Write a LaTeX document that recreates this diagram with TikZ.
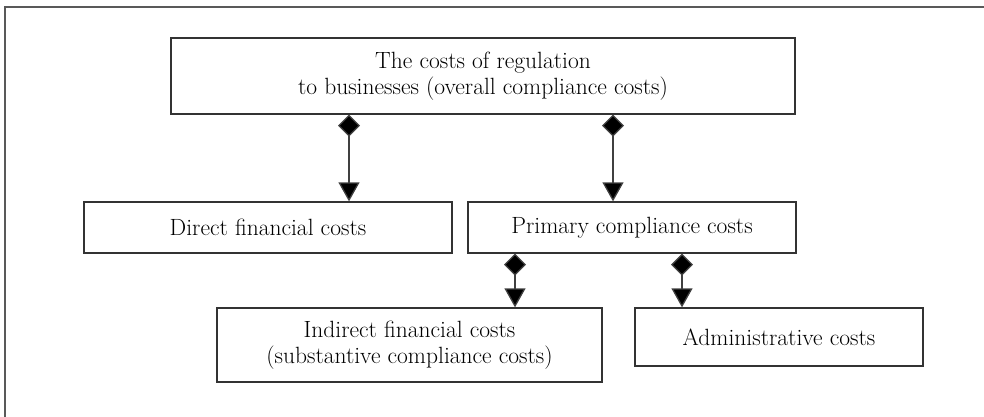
\documentclass[tikz,border=0pt]{standalone}
\usetikzlibrary{arrows.meta}

\begin{document}
\begin{tikzpicture}
[x=1pt,y=-1pt,
 box/.style={draw=black!80,line width=1.3pt,rectangle,inner sep=0pt,align=center,
   font=\fontsize{23.5}{26}\selectfont},
 link/.style={draw=black!75,line width=1.3pt,
   {Diamond[length=22pt,width=22pt,fill=black]}-{Triangle[length=19pt,width=21pt,fill=black]}}]
\useasboundingbox (0,0) rectangle (984,417);
% frame
\draw[black!65,line width=2pt] (5,417) -- (5,7) -- (984,7);
\node[box,minimum width=624pt,minimum height=76pt](top) at (483,76)
  {The costs of regulation\\to businesses (overall compliance costs)};
\node[box,minimum width=368pt,minimum height=51pt](dfc) at (268,227.5){Direct financial costs};
\node[box,minimum width=328pt,minimum height=51pt](pcc) at (632,227.5){Primary compliance costs};
\node[box,minimum width=385pt,minimum height=74pt](ifc) at (409.5,345)
  {Indirect financial costs\\(substantive compliance costs)};
\node[box,minimum width=288pt,minimum height=58pt](adm) at (779,337){Administrative costs};
\path[link] ([xshift=81pt]dfc.north |- top.south) -- ([xshift=81pt]dfc.north);
\path[link] ([xshift=-19pt]pcc.north |- top.south) -- ([xshift=-19pt]pcc.north);
\path[link] ([xshift=105.5pt]ifc.north |- pcc.south) -- ([xshift=105.5pt]ifc.north);
\path[link] ([xshift=-97pt]adm.north |- pcc.south) -- ([xshift=-97pt]adm.north);
\end{tikzpicture}
\end{document}
